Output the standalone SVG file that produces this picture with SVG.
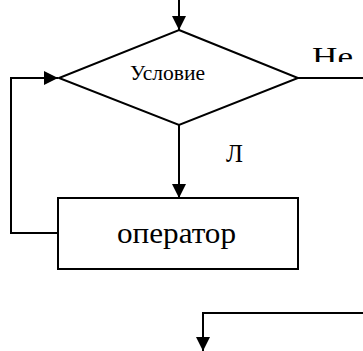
<svg xmlns="http://www.w3.org/2000/svg" width="363" height="351" viewBox="0 0 363 351">
<style>
.ln{fill:none;stroke:#000;stroke-width:2}
.sh{fill:#fff;stroke:#000;stroke-width:2}
.t{font-family:'Liberation Serif','DejaVu Serif',serif;fill:#000}
</style>
<defs>
<marker id="ah" viewBox="0 0 10 10" refX="10" refY="5" markerWidth="14" markerHeight="14" markerUnits="userSpaceOnUse" orient="auto">
<path d="M0,0 L10,5 L0,10 Z" fill="#000"/>
</marker>
<clipPath id="cNe"><rect x="300" y="30" width="63" height="32"/></clipPath>
</defs>
<g id="connectors">
<line class="ln" x1="179" y1="0" x2="179" y2="30" marker-end="url(#ah)"/>
<line class="ln" x1="179" y1="125" x2="179" y2="198" marker-end="url(#ah)"/>
<polyline class="ln" points="58,233 11,233 11,78 58,78" marker-end="url(#ah)"/>
<line class="ln" x1="298" y1="78" x2="363" y2="78"/>
<polyline class="ln" points="363,313 203,313 203,351" marker-end="url(#ah)"/>
</g>
<g id="condition">
<polygon class="sh" points="179,30 298,78 179,125 59,78"/>
<text class="t" x="130" y="80" font-size="20" textLength="75" lengthAdjust="spacingAndGlyphs">Условие</text>
</g>
<g id="operator">
<rect class="sh" x="58" y="198" width="240" height="71"/>
<text class="t" x="117" y="243" font-size="29" textLength="119" lengthAdjust="spacingAndGlyphs">оператор</text>
</g>
<g id="labels">
<text class="t" x="312" y="66" font-size="27" textLength="41" lengthAdjust="spacingAndGlyphs" clip-path="url(#cNe)">Не</text>
<text class="t" x="226" y="162" font-size="25">Л</text>
</g>
</svg>
